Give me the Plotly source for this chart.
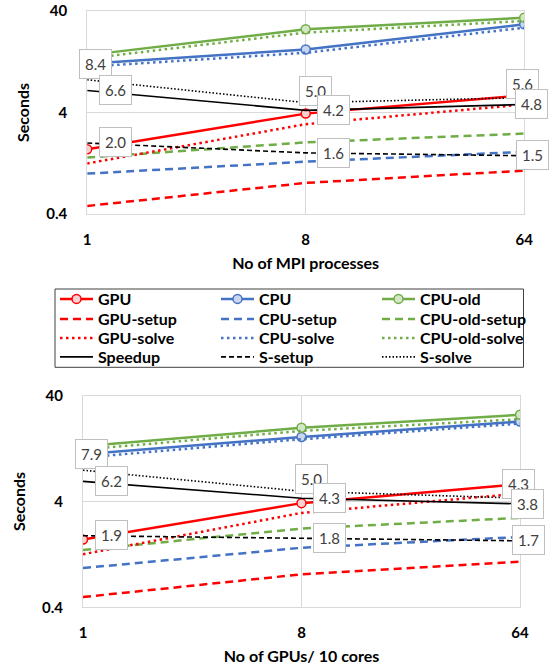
import math
import plotly.graph_objects as go

W, H = 549, 668

x_labels = ["1", "8", "64"]

# ---- top chart: No of MPI processes ----
gpu_a = [1.74, 3.9, 5.9]
gpu_setup_a = [0.48, 0.81, 1.07]
gpu_solve_a = [1.26, 3.07, 4.8]
cpu_a = [12.1, 16.7, 29.6]
cpu_setup_a = [1.0, 1.31, 1.64]
cpu_solve_a = [11.3, 15.5, 27.4]
cpuold_a = [14.7, 26.4, 34.4]
cpuold_setup_a = [1.44, 2.03, 2.48]
cpuold_solve_a = [13.6, 24.5, 31.9]
speedup_a = [6.6, 4.2, 4.8]
s_setup_a = [2.0, 1.6, 1.5]
s_solve_a = [8.4, 5.0, 5.6]

# ---- bottom chart: No of GPUs / 10 cores ----
gpu_b = [1.75, 3.86, 5.83]
gpu_setup_b = [0.50, 0.82, 1.08]
gpu_solve_b = [1.27, 3.12, 4.76]
cpu_b = [11.2, 16.3, 22.8]
cpu_setup_b = [0.94, 1.46, 1.85]
cpu_solve_b = [10.4, 15.5, 21.8]
cpuold_b = [13.3, 19.9, 26.4]
cpuold_setup_b = [1.39, 2.22, 2.8]
cpuold_solve_b = [12.4, 18.6, 24.0]
speedup_b = [6.2, 4.3, 3.8]
s_setup_b = [1.9, 1.8, 1.7]
s_solve_b = [7.9, 5.0, 4.3]

y_tick_vals = [0.4, 4, 40]
y_tick_text = ["0.4", "4", "40"]

FONT = "Lato"
RED, BLUE, GREEN, BLACK = "#FF0000", "#4472C4", "#70AD47", "#000000"
FILL = {RED: "#FAD2D2", BLUE: "#C9D6EE", GREEN: "#D3E6C5"}

DASH_C = "8px,5px"
DOT_C = "2.5px,3.5px"
DASH_K = "5px,3px"
DOT_K = "1.5px,2px"

LEGENDS = ["legend", "legend2", "legend3", "legend4"]

fig = go.Figure()


def series(gpu, gs, gv, cpu, cs, cv, co, cos, cov, sp, ss, sv):
    return [
        ("GPU", gpu, RED, "solid", 2.5, True),
        ("CPU", cpu, BLUE, "solid", 2.5, True),
        ("CPU-old", co, GREEN, "solid", 2.5, True),
        ("GPU-setup", gs, RED, DASH_C, 2.5, False),
        ("CPU-setup", cs, BLUE, DASH_C, 2.5, False),
        ("CPU-old-setup", cos, GREEN, DASH_C, 2.5, False),
        ("GPU-solve", gv, RED, DOT_C, 2.5, False),
        ("CPU-solve", cv, BLUE, DOT_C, 2.5, False),
        ("CPU-old-solve", cov, GREEN, DOT_C, 2.5, False),
        ("Speedup", sp, BLACK, "solid", 1.6, False),
        ("S-setup", ss, BLACK, DASH_K, 1.6, False),
        ("S-solve", sv, BLACK, DOT_K, 1.6, False),
    ]


def add_set(sets, xa, ya, show):
    for k, (name, vals, color, dash, width, marker) in enumerate(sets):
        kw = {}
        if marker:
            kw["marker"] = dict(symbol="circle", size=9, color=FILL[color],
                                line=dict(color=color, width=1.5))
            mode = "lines+markers"
        else:
            mode = "lines"
        fig.add_trace(go.Scatter(
            x=x_labels, y=vals, name=name, mode=mode, xaxis=xa, yaxis=ya,
            line=dict(color=color, width=width, dash=dash),
            showlegend=show, legend=LEGENDS[k // 3], **kw))


add_set(series(gpu_a, gpu_setup_a, gpu_solve_a, cpu_a, cpu_setup_a, cpu_solve_a,
               cpuold_a, cpuold_setup_a, cpuold_solve_a, speedup_a, s_setup_a, s_solve_a),
        "x", "y", True)
add_set(series(gpu_b, gpu_setup_b, gpu_solve_b, cpu_b, cpu_setup_b, cpu_solve_b,
               cpuold_b, cpuold_setup_b, cpuold_solve_b, speedup_b, s_setup_b, s_solve_b),
        "x2", "y2", False)

# data labels (speedup values)
solve_shift = [(8, 16), (10, 12), (-2, 14)]
side_shift = [(28, 0), (28, 0), (7, 0)]
setup_shift = [(28, 1), (28, 0), (8, 1)]
annotations = []
for xa, ya, sp, ss, sv in [("x", "y", speedup_a, s_setup_a, s_solve_a),
                           ("x2", "y2", speedup_b, s_setup_b, s_solve_b)]:
    for i in range(len(x_labels)):
        for vals, shifts in [(sv, solve_shift), (sp, side_shift), (ss, setup_shift)]:
            dx, dy = shifts[i]
            annotations.append(dict(
                x=i, y=math.log10(vals[i]), xref=xa, yref=ya,
                text=f"{vals[i]:.1f}", showarrow=False, xshift=dx, yshift=dy,
                font=dict(family=FONT, size=15, color="#404040"),
                bgcolor="white", bordercolor="#BFBFBF", borderwidth=1, borderpad=5))

BOLD15 = dict(family=FONT, size=15, color="#000000", weight="bold")
BOLD16 = dict(family=FONT, size=16, color="#000000", weight="bold")

axis_common = dict(showgrid=True, gridcolor="#D9D9D9", gridwidth=1,
                   showline=True, linecolor="#D9D9D9", linewidth=1, mirror=True,
                   zeroline=False, ticks="", automargin=False, tickfont=BOLD15)

xaxis_common = dict(axis_common, type="category", range=[0, 2], ticklabelstandoff=12,
                    title_font=BOLD16, title_standoff=10)
yaxis_common = dict(axis_common, type="log", range=[math.log10(0.4), math.log10(40)],
                    tickvals=y_tick_vals, ticktext=y_tick_text, ticklabelstandoff=16,
                    title_text="Seconds", title_font=BOLD16, title_standoff=12)

legend_rows_px = [299, 319, 338, 357]
legend_layout = {}
for name, ypx in zip(LEGENDS, legend_rows_px):
    legend_layout[name] = dict(
        orientation="h", x=55 / W, y=1 - ypx / H, xanchor="left", yanchor="middle",
        bgcolor="rgba(0,0,0,0)", borderwidth=0, itemwidth=33,
        entrywidth=113, entrywidthmode="pixels", tracegroupgap=0,
        font=dict(family=FONT, size=16, color="#000000", weight="bold"))

fig.update_layout(
    width=W, height=H, margin=dict(l=0, r=0, t=0, b=0),
    paper_bgcolor="white", plot_bgcolor="white",
    font=dict(family=FONT),
    xaxis=dict(xaxis_common, domain=[87.2 / W, 524.2 / W], anchor="y",
               title_text="No of MPI processes"),
    yaxis=dict(yaxis_common, domain=[1 - 214 / H, 1 - 11 / H], anchor="x"),
    xaxis2=dict(xaxis_common, domain=[83 / W, 520 / W], anchor="y2",
                title_text="No of GPUs/ 10 cores"),
    yaxis2=dict(yaxis_common, domain=[1 - 607.3 / H, 1 - 395.7 / H], anchor="x2"),
    annotations=annotations,
    shapes=[dict(type="rect", xref="paper", yref="paper",
                 x0=55 / W, x1=523.5 / W, y0=1 - 367.3 / H, y1=1 - 289 / H,
                 line=dict(color="#404040", width=1), fillcolor="rgba(0,0,0,0)", layer="below")],
    showlegend=True,
    **legend_layout,
)

fig.write_html("out.html", config={"displayModeBar": False},
               post_script="document.body.style.margin='0px';")
